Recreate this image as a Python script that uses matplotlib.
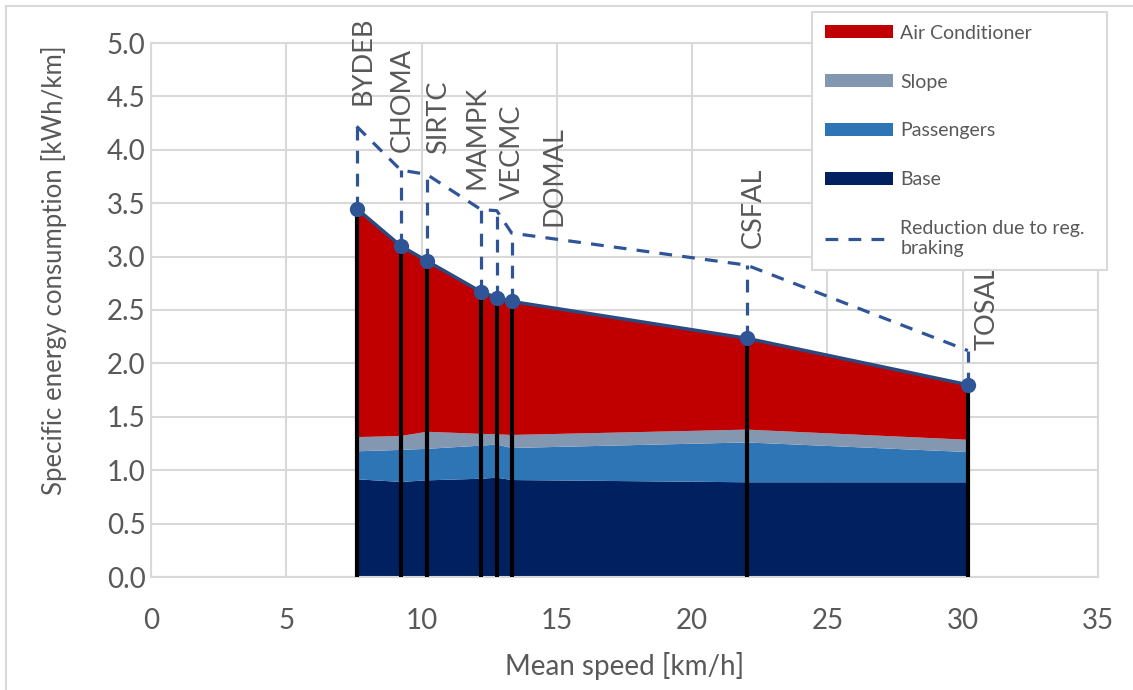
import matplotlib
matplotlib.use('Agg')
import matplotlib.pyplot as plt
from matplotlib.patches import Patch, Rectangle
from matplotlib.lines import Line2D
import numpy as np

plt.rcParams['font.family'] = ['Lato', 'DejaVu Sans']

# bus lines, mean speed and consumption split per component
stations = ['BYDEB', 'CHOMA', 'SIRTC', 'MAMPK', 'VECMC', 'DOMAL', 'CSFAL', 'TOSAL']
speed = [7.60, 9.23, 10.19, 12.20, 12.78, 13.33, 22.02, 30.19]
base = [0.915, 0.89, 0.905, 0.92, 0.93, 0.908, 0.887, 0.887]
passengers = [0.262, 0.30, 0.295, 0.31, 0.31, 0.30, 0.373, 0.283]
slope = [0.133, 0.13, 0.16, 0.11, 0.096, 0.122, 0.12, 0.115]
air_cond = [2.14, 1.78, 1.60, 1.33, 1.28, 1.25, 0.855, 0.515]
# consumption without regenerative braking
no_regen = [4.22, 3.81, 3.77, 3.44, 3.43, 3.22, 2.92, 2.12]

# where the station names sit (data coords, bottom of rotated text)
label_x = [7.85, 9.27, 10.62, 12.04, 13.37, 14.90, 22.27, 30.89]
label_y = [4.42, 3.98, 3.96, 3.63, 3.53, 3.29, 3.08, 2.13]

grey = '#595959'
grid_c = '#D9D9D9'
c_ac = '#C00000'
c_slope = '#8497B0'
c_pass = '#2E75B6'
c_base = '#002060'
c_blue = '#2F5597'
dash = (0, (4, 3.2))

fig = plt.figure(figsize=(11.33, 6.9), dpi=100)
ax = fig.add_axes([151 / 1133, 113 / 690, 947 / 1133, 534 / 690])

total = np.array(base) + np.array(passengers) + np.array(slope) + np.array(air_cond)

ax.stackplot(speed, base, passengers, slope, air_cond,
             colors=[c_base, c_pass, c_slope, c_ac], linewidth=0, zorder=2)
ax.vlines(speed, 0, total, colors='black', linewidth=3, zorder=3)
ax.plot(speed, total, color='#2B4A80', linewidth=2.5, zorder=4)
ax.plot(speed, total, linestyle='none', marker='o', markersize=10,
        markerfacecolor=c_blue, markeredgecolor=c_blue, zorder=6)

ax.plot(speed, no_regen, color=c_blue, linewidth=2.3, linestyle=dash, zorder=5)
ax.vlines(speed, total, no_regen, colors=c_blue, linewidth=2.3, linestyles=[dash], zorder=5)

for name, lx, ly in zip(stations, label_x, label_y):
    ax.text(lx, ly, name, rotation=90, ha='center', va='bottom', fontsize=19.5, color=grey, zorder=7)

ax.set_xlim(0, 35)
ax.set_ylim(0, 5)
ax.set_xticks(np.arange(0, 36, 5))
ax.set_yticks(np.arange(0, 5.01, 0.5))
ax.set_yticklabels([f'{v:.1f}' for v in np.arange(0, 5.01, 0.5)])
ax.tick_params(axis='both', length=0, labelsize=20, labelcolor=grey)
ax.tick_params(axis='x', pad=22)
ax.tick_params(axis='y', pad=4)
ax.grid(True, color=grid_c, linewidth=1.5, zorder=0)
ax.set_axisbelow(True)
for s in ax.spines.values():
    s.set_color(grid_c)
    s.set_linewidth(1.5)

ax.set_xlabel('Mean speed [km/h]', fontsize=20, color=grey)
ax.set_ylabel('Specific energy consumption [kWh/km]', fontsize=18.5, color=grey)
ax.xaxis.set_label_coords(0.5, -0.14)
ax.yaxis.set_label_coords(-0.089, 0.575)

handles = [Patch(facecolor=c_ac), Patch(facecolor=c_slope), Patch(facecolor=c_pass),
           Patch(facecolor=c_base),
           Line2D([], [], color=c_blue, linewidth=2.3, linestyle=dash)]
labels = ['Air Conditioner', 'Slope', 'Passengers', 'Base', 'Reduction due to reg.\nbraking']
leg = ax.legend(handles, labels, loc='upper left', bbox_to_anchor=(812 / 1133, 0.2, 295 / 1133, 678 / 690 - 0.2),
                bbox_transform=fig.transFigure, mode='expand', borderaxespad=0, fontsize=14,
                labelcolor=grey, fancybox=False, framealpha=1, edgecolor=grid_c, borderpad=0.65,
                handlelength=3.5, handleheight=0.62, handletextpad=0.4, labelspacing=1.64)
leg.get_frame().set_linewidth(1.5)
leg.set_zorder(10)

fig.patches.append(Rectangle((6 / 1133, -0.1), 1.2, 1.1 - 6 / 690, transform=fig.transFigure,
                             fill=False, edgecolor=grid_c, linewidth=1.5))

fig.savefig('out.png', dpi=100)
